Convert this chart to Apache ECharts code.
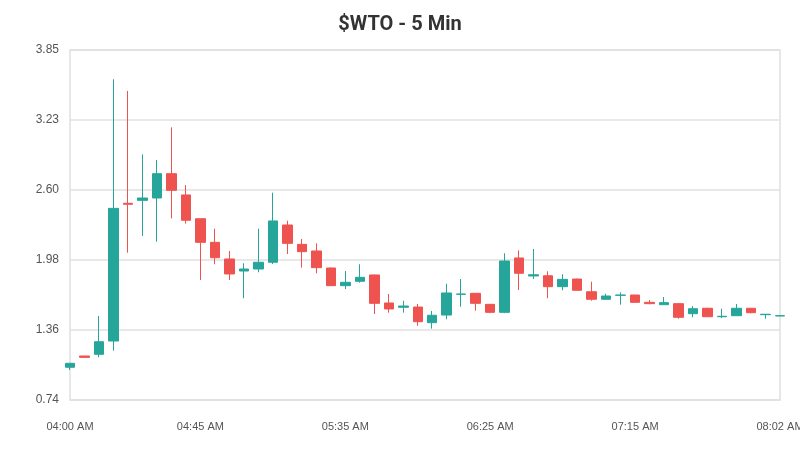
<!DOCTYPE html>
<html>
<head>
<meta charset="utf-8">
<script src="https://cdn.jsdelivr.net/npm/echarts@6/dist/echarts.min.js"></script>
<style>
  html, body { margin: 0; padding: 0; background: #fff; }
  #wto-candles { width: 800px; height: 450px; }
</style>
</head>
<body>
<div id="wto-candles"></div>
<script>
// 5 min bars, 04:00 -> 08:05
const times = [
  '04:00 AM', '04:05 AM', '04:10 AM', '04:15 AM', '04:20 AM', '04:25 AM', '04:30 AM', '04:35 AM', '04:40 AM', '04:45 AM',
  '04:50 AM', '04:55 AM', '05:00 AM', '05:05 AM', '05:10 AM', '05:15 AM', '05:20 AM', '05:25 AM', '05:30 AM', '05:35 AM',
  '05:40 AM', '05:45 AM', '05:50 AM', '05:55 AM', '06:00 AM', '06:05 AM', '06:10 AM', '06:15 AM', '06:20 AM', '06:25 AM',
  '06:30 AM', '06:35 AM', '06:40 AM', '06:45 AM', '06:50 AM', '06:55 AM', '07:00 AM', '07:05 AM', '07:10 AM', '07:15 AM',
  '07:20 AM', '07:25 AM', '07:30 AM', '07:35 AM', '07:40 AM', '07:45 AM', '07:50 AM', '07:55 AM', '08:00 AM', '08:05 AM'
];
// tick labels as printed under the axis, and the bar they sit under
const xTickLabels = ['04:00 AM', '04:45 AM', '05:35 AM', '06:25 AM', '07:15 AM', '08:02 AM'];
const xTickIndex = [0, 9, 19, 29, 39, 49];

const open = [
  1.029, 1.129, 1.144, 1.262, 2.486, 2.512, 2.533, 2.749, 2.560, 2.349,
  2.139, 1.991, 1.884, 1.902, 1.962, 2.293, 2.121, 2.062, 1.911, 1.754,
  1.793, 1.849, 1.600, 1.562, 1.564, 1.425, 1.493, 1.677, 1.686, 1.588,
  1.517, 2.000, 1.840, 1.842, 1.745, 1.813, 1.700, 1.633, 1.668, 1.671,
  1.606, 1.585, 1.594, 1.505, 1.553, 1.478, 1.487, 1.553, 1.496, 1.485
];
const close = [
  1.064, 1.117, 1.256, 2.441, 2.477, 2.533, 2.749, 2.601, 2.335, 2.139,
  2.002, 1.858, 1.902, 1.962, 2.329, 2.130, 2.056, 1.914, 1.754, 1.784,
  1.828, 1.597, 1.547, 1.573, 1.434, 1.491, 1.689, 1.680, 1.597, 1.517,
  1.973, 1.864, 1.851, 1.745, 1.810, 1.713, 1.633, 1.662, 1.671, 1.606,
  1.594, 1.603, 1.473, 1.549, 1.478, 1.482, 1.553, 1.514, 1.500, 1.487
];
const low = [
  1.005, 1.111, 1.117, 1.176, 2.047, 2.195, 2.145, 2.352, 2.305, 1.804,
  1.944, 1.804, 1.642, 1.873, 1.946, 2.035, 1.914, 1.864, 1.754, 1.724,
  1.780, 1.502, 1.514, 1.514, 1.398, 1.372, 1.455, 1.567, 1.531, 1.510,
  1.510, 1.715, 1.813, 1.642, 1.713, 1.713, 1.620, 1.631, 1.585, 1.606,
  1.588, 1.585, 1.460, 1.473, 1.476, 1.467, 1.487, 1.508, 1.460, 1.483
];
const high = [
  1.067, 1.129, 1.484, 3.588, 3.484, 2.921, 2.871, 3.161, 2.648, 2.349,
  2.260, 2.062, 1.953, 2.260, 2.580, 2.331, 2.169, 2.130, 1.914, 1.884,
  1.944, 1.852, 1.680, 1.620, 1.591, 1.529, 1.771, 1.813, 1.686, 1.592,
  2.042, 2.068, 2.080, 1.882, 1.855, 1.816, 1.789, 1.682, 1.695, 1.671,
  1.627, 1.653, 1.597, 1.573, 1.558, 1.549, 1.591, 1.555, 1.500, 1.489
];

const yMin = 0.738;
const yMax = 3.848;
const yStep = 0.622;

const UP = '#26a69a';
const DOWN = '#ef5350';

const dom = document.getElementById('wto-candles');
const chart = echarts.init(dom, null, { renderer: 'canvas' });

const ohlc = times.map((t, i) => [open[i], close[i], low[i], high[i]]);

const option = {
  animation: false,
  backgroundColor: '#fff',
  textStyle: { fontFamily: '"Liberation Sans", Roboto, sans-serif' },
  title: {
    text: '$WTO - 5 Min',
    left: 'center',
    top: 10,
    textStyle: { fontSize: 20, fontWeight: 'bold', color: '#333', fontFamily: 'Roboto, sans-serif' }
  },
  grid: {
    left: 70,
    right: 20,
    top: 50,
    bottom: 50,
    show: true,
    borderColor: '#e0e0e0',
    borderWidth: 1.5,
    containLabel: false,
    outerBoundsMode: 'none'
  },
  xAxis: {
    type: 'category',
    data: times,
    boundaryGap: false,
    axisLine: { show: false },
    axisTick: { show: false },
    splitLine: { show: false },
    axisLabel: {
      color: '#555',
      fontSize: 11,
      margin: 21,
      showMaxLabel: true,
      hideOverlap: false,
      interval: idx => xTickIndex.indexOf(idx) >= 0,
      formatter: (val, idx) => {
        const k = xTickIndex.indexOf(idx);
        return k >= 0 ? xTickLabels[k] : '';
      }
    }
  },
  yAxis: {
    type: 'value',
    min: yMin,
    max: yMax,
    interval: yStep,
    axisLine: { show: false },
    axisTick: { show: false },
    splitLine: { lineStyle: { color: '#e0e0e0', width: 1.5 } },
    axisLabel: {
      color: '#555',
      fontSize: 12,
      margin: 11,
      formatter: v => v.toFixed(2)
    }
  },
  series: [
    {
      name: '$WTO',
      type: 'candlestick',
      data: ohlc,
      barWidth: 10,
      clip: false,
      itemStyle: {
        color: UP,
        color0: DOWN,
        borderColor: UP,
        borderColor0: DOWN,
        borderWidth: 1
      }
    }
  ]
};

chart.setOption(option);
</script>
</body>
</html>
